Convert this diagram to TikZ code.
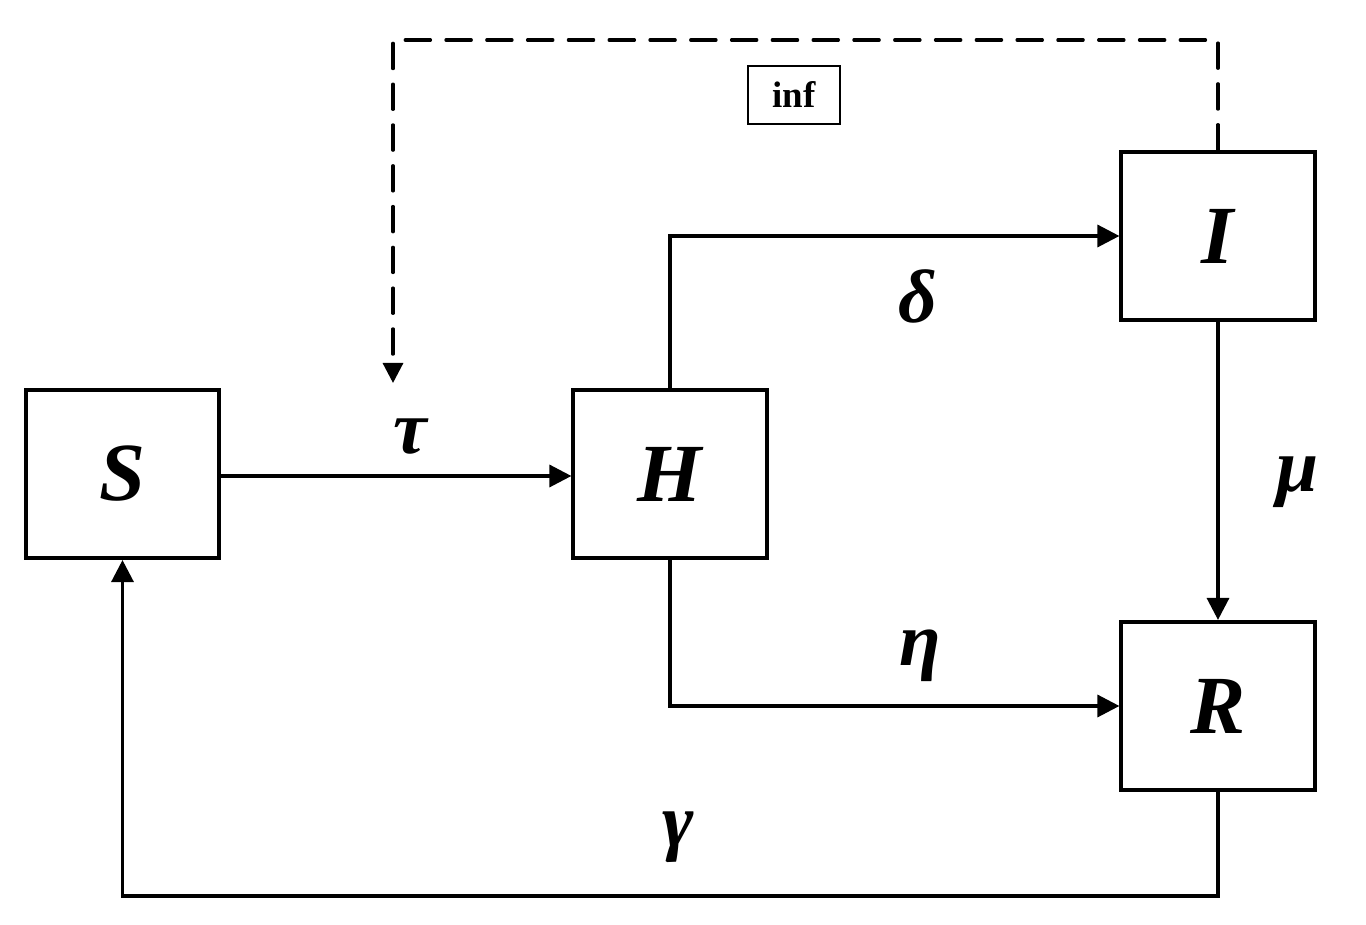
\documentclass[tikz,border=0pt]{standalone}
\usepackage{fontspec}
\setmainfont{Liberation Serif}
\usetikzlibrary{arrows.meta}
\begin{document}
\begin{tikzpicture}[x=0.01cm,y=-0.01cm,
  box/.style={draw,line width=1.15pt,minimum width=1.93cm,minimum height=1.68cm,inner sep=0pt,
    font=\fontsize{23.5}{28}\selectfont\bfseries\itshape},
  conn/.style={line width=0.95pt,-{Triangle[length=0.22cm,width=0.22cm]}},
  lbl/.style={font=\fontsize{21.5}{26}\selectfont\bfseries\itshape,inner sep=0pt},
  dash line/.style={line width=0.9pt,dash pattern=on 7.2pt off 4.4pt,line cap=round,-{Triangle[length=0.2cm,width=0.2cm]}}]
\useasboundingbox (0,0) rectangle (1366,925);
\fill[white] (0,0) rectangle (1366,925);
\node[box] (S) at (122.5,474) {S};
\node[box] (H) at (670,474) {H};
\node[box] (I) at (1218,236) {I};
\node[box] (R) at (1218,706) {R};
\node[draw,line width=0.7pt,minimum width=0.92cm,minimum height=0.58cm,inner sep=0pt,
  font=\fontsize{10.5}{12}\selectfont\bfseries] (inf) at (794,95) {inf};
\coordinate (dtop) at (1218,40);
\coordinate (dleft) at (393,40);
\coordinate (dend) at (393,383);
\draw[conn] (S.east |- 0,476) -- (H.west |- 0,476);
\draw[conn] (H.north) |- (I.west);
\draw[conn] (H.south) |- (R.west);
\draw[conn] (I.south) -- (R.north);
\draw[conn] (R.south) |- (122.5,896) -- (S.south);
\draw[dash line] (I.north) -- (dtop) -- (dleft) -- (dend);
\node[lbl] (tau) at (410,437) {τ};
\node[lbl] (delta) at (918,296) {δ};
\node[lbl] (eta) at (920,656) {η};
\node[lbl] (mu) at (1298,482) {μ};
\node[lbl] (gamma) at (678,837) {γ};
\end{tikzpicture}
\end{document}
